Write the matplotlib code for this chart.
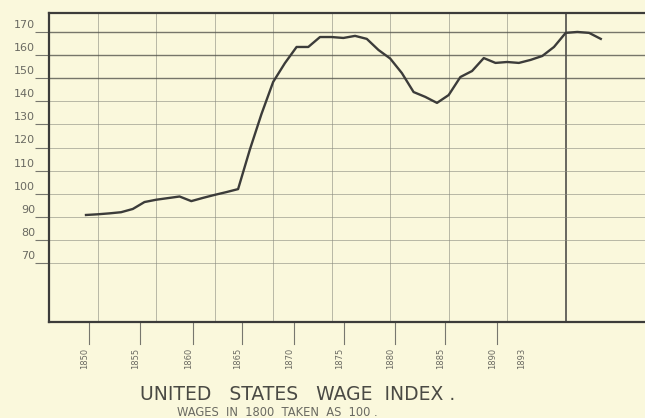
import matplotlib.pyplot as plt
import matplotlib.transforms as mtransforms

# wage index, one value per year
years = list(range(1849, 1894))
wages = [90.8, 91.1, 91.5, 92.0, 93.4, 96.4, 97.4, 98.1, 98.8, 96.8,
         98.2, 99.5, 100.7, 102.0, 119.0, 134.5, 148.4, 156.5, 163.5, 163.5,
         167.8, 167.8, 167.4, 168.3, 167.0, 162.2, 158.5, 152.2, 144.0, 141.9,
         139.3, 142.7, 150.5, 153.1, 158.7, 156.6, 157.0, 156.6, 157.9, 159.6,
         163.5, 169.6, 170.0, 169.6, 167.0]

y_ticks = [70, 80, 90, 100, 110, 120, 130, 140, 150, 160, 170]
grid_years = [1850, 1855, 1860, 1865, 1870, 1875, 1880, 1885, 1890]
year_labels = ['1850', '1855', '1860', '1865', '1870', '1875', '1880', '1885', '1890', '1893']

title = 'UNITED   STATES   WAGE  INDEX .'
subtitle = 'WAGES  IN  1800  TAKEN  AS  100 .'

paper = '#faf8dc'
ink = '#3c3c3a'
pale = '#6a6a62'

fig = plt.figure(figsize=(6.45, 4.18), dpi=100, facecolor=paper)
ax = fig.add_axes([0.076, 0.2297, 0.924, 0.7392], facecolor=paper)

ax.set_xlim(1845.84, 1896.78)
ax.set_ylim(44.5, 178.2)

# faint ruled grid
for g in grid_years:
    heavy = g == 1890
    ax.axvline(g, color=ink if heavy else '#8c8c80', lw=1.2 if heavy else 0.7,
               alpha=0.9 if heavy else 0.6, zorder=1)
for t in y_ticks:
    heavy = t in (150, 160, 170)
    ax.axhline(t, color='#55554e' if heavy else '#8c8c80', lw=1.0 if heavy else 0.7,
               alpha=0.8 if heavy else 0.6, zorder=1)

ax.plot(years, wages, color=ink, lw=1.7, solid_joinstyle='round', zorder=3)

for side in ('top', 'bottom', 'left'):
    ax.spines[side].set_color(ink)
    ax.spines[side].set_linewidth(1.6)
ax.spines['right'].set_visible(False)

# y labels sit just above their rule, ticks run out to the left under them
ax.set_yticks(y_ticks)
ax.tick_params(axis='y', direction='out', length=10, width=0.8, color='#77776e',
               pad=0, labelsize=8, labelcolor=pale)
shift = mtransforms.ScaledTranslation(0, 1.5 / 72, fig.dpi_scale_trans)
for lab in ax.get_yticklabels():
    lab.set_va('bottom')
    lab.set_transform(lab.get_transform() + shift)

# hand-placed year marks below the frame
ax.set_xticks([])
label_pos = [0.0671, 0.1527, 0.2416, 0.3238, 0.4111, 0.4950, 0.5805, 0.6644, 0.7517, 0.8003]
for i, (pos, lab) in enumerate(zip(label_pos, year_labels)):
    if i < len(label_pos) - 1:
        ax.plot([pos, pos], [0, -0.072], transform=ax.transAxes, color='#77776e',
                lw=0.8, clip_on=False)
    ax.text(pos - 0.007, -0.085, lab, transform=ax.transAxes, rotation=90,
            ha='center', va='top', fontsize=6, color=pale)

fig.text(0.461, 0.057, title, ha='center', va='center', fontsize=13.5, color='#4a4a44')
fig.text(0.43, 0.013, subtitle, ha='center', va='center', fontsize=8.3, color=pale)

fig.savefig('out.png', dpi=100, facecolor=paper)
